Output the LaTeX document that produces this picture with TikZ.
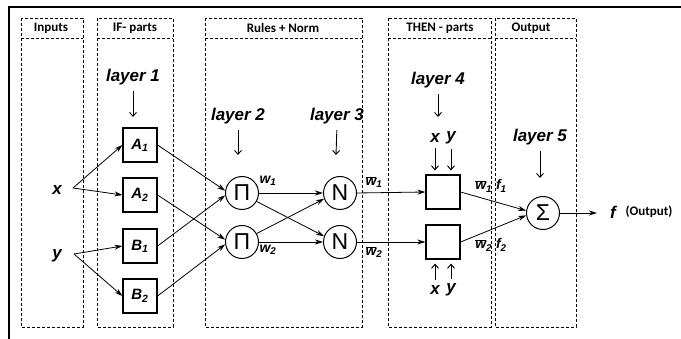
\documentclass[tikz,border=0pt]{standalone}
\usepackage{fontspec}
\setmainfont{Liberation Sans}
\newfontfamily\headfont{Carlito}
\usetikzlibrary{arrows.meta}

\tikzset{
  panel/.style={line width=0.7pt, dash pattern=on 3pt off 2pt},
  mfbox/.style={draw, line width=1.2pt, minimum size=34pt, inner sep=0pt,
    font=\fontsize{15}{15}\selectfont\bfseries\itshape},
  unit/.style={draw, circle, line width=1pt, minimum size=33pt, inner sep=0pt,
    font=\fontsize{23}{23}\selectfont},
  var/.style={font=\fontsize{17}{17}\selectfont\bfseries\itshape, inner sep=1pt},
  sig/.style={font=\fontsize{14}{14}\selectfont\bfseries\itshape, inner sep=1pt},
  layer/.style={font=\fontsize{17}{17}\selectfont\bfseries\itshape, inner sep=1pt},
  head/.style={font=\headfont\fontsize{13}{13}\selectfont\bfseries},
  link/.style={line width=0.8pt, -{Stealth[length=8pt,width=5pt,inset=2.5pt]}},
  down/.style={line width=0.9pt, -{Straight Barb[length=4pt,width=7pt]}},
}
\newcommand{\wbar}[1]{$\overline{\mbox{w}}$\textsubscript{#1}}

\begin{document}
\begin{tikzpicture}[x=1pt,y=-1pt]

	\useasboundingbox (0,0) rectangle (681,339);

	% frame
	\draw[line width=1.8pt] (681,7) -- (9,7) -- (9,339);

	% panels
	\draw[panel] (21,18) rectangle (83,327);
	\draw[panel] (21,38) -- (83,38);
	\draw[panel] (97,18) rectangle (173,327);
	\draw[panel] (97,38) -- (173,38);
	\draw[panel] (205,18) rectangle (362,327);
	\draw[panel] (205,38) -- (362,38);
	\draw[panel] (388,18) rectangle (491,327);
	\draw[panel] (388,38) -- (491,38);
	\draw[panel] (495,18) rectangle (576,327);
	\draw[panel] (495,38) -- (576,38);

	\node[head] (hin) at (51,28) {Inputs};
	\node[head] (hif) at (135,28) {IF- parts};
	\node[head] (hrule) at (283,28) {Rules + Norm};
	\node[head] (hthen) at (440,28) {THEN - parts};
	\node[head] (hout) at (531,28) {Output};

	% inputs
	\node[var] (x) at (57,190) {x};
	\node[var] (y) at (57,256) {y};
	\coordinate (xf) at (73,188);
	\coordinate (yf) at (74,254);

	% layer 1
	\node[mfbox] (A1) at (140,145) {A\textsubscript{1}};
	\node[mfbox] (A2) at (140,195) {A\textsubscript{2}};
	\node[mfbox] (B1) at (140,246) {B\textsubscript{1}};
	\node[mfbox] (B2) at (140,296) {B\textsubscript{2}};

	% layer 2 and 3
	\node[unit] (P1) at (242,193) {Π};
	\node[unit] (P2) at (242,242) {Π};
	\node[unit] (N1) at (340,193) {N};
	\node[unit] (N2) at (340,242) {N};

	% layer 4 and 5
	\node[draw, line width=1.2pt, minimum size=34pt] (T1) at (443,192) {};
	\node[draw, line width=1.2pt, minimum size=34pt] (T2) at (443,242) {};
	\node[unit] (S) at (543,213) {Σ};
	\coordinate (out) at (597,213);
	\node[var] (f) at (613,212) {f};
	\node[head] (fo) at (649,212) {(Output)};

	% connections
	\draw[link] (xf) -- (A1.west);
	\draw[link] (xf) -- (A2.west);
	\draw[link] (yf) -- (B1.west);
	\draw[link] (yf) -- (B2.west);

	\draw[link] (A1.east) -- (P1.172);
	\draw[link] (B1.east) -- (P1.188);
	\draw[link] (A2.east) -- (P2.172);
	\draw[link] (B2.east) -- (P2.188);

	\draw[link] (P1.east) -- (N1.west);
	\draw[link] (P1.-30) -- (N2.160);
	\draw[link] (P2.30) -- (N1.200);
	\draw[link] (P2.east) -- (N2.west);

	\draw[link] (N1.east) -- (T1.west);
	\draw[link] (N2.east) -- (T2.west);
	\draw[link] (T1.east) -- (S.172);
	\draw[link] (T2.east) -- (S.188);
	\draw[link] (S.east) -- (out);

	% signal labels
	\node[sig] (w1) at (268,181) {w\textsubscript{1}};
	\node[sig] (w2) at (268,250) {w\textsubscript{2}};
	\node[sig] (nw1) at (374,182) {\wbar{1}};
	\node[sig] (nw2) at (374,252) {\wbar{2}};
	\node[sig] (wf1) at (491,186) {\wbar{1} f\textsubscript{1}};
	\node[sig] (wf2) at (491,245) {\wbar{2} f\textsubscript{2}};

	% layer labels
	\node[layer] (L1) at (133,77) {layer 1};
	\node[layer] (L2) at (238,116) {layer 2};
	\node[layer] (L3) at (337,116) {layer 3};
	\node[layer] (L4) at (438,80) {layer 4};
	\node[layer] (L5) at (540,137) {layer 5};
	\coordinate (L1e) at (133,117);
	\coordinate (L2e) at (238,155);
	\coordinate (L3e) at (336,155);
	\coordinate (L4e) at (438,117);
	\coordinate (L5e) at (540,178);
	\draw[down, shorten <=5pt] (L1.south) -- (L1e);
	\draw[down, shorten <=5pt] (L2.south) -- (L2e);
	\draw[down, shorten <=5pt] (L3.south) -- (L3e);
	\draw[down, shorten <=5pt] (L4.south) -- (L4e);
	\draw[down, shorten <=5pt] (L5.south) -- (L5e);

	% consequent inputs
	\node[var] (tx) at (435,138) {x};
	\node[var] (ty) at (451,138) {y};
	\node[var] (bx) at (435,290) {x};
	\node[var] (by) at (451,290) {y};
	\draw[down, shorten <=4pt, shorten >=4pt] (tx.south) -- (tx.south |- T1.north);
	\draw[down, shorten <=4pt, shorten >=4pt] (ty.south) -- (ty.south |- T1.north);
	\draw[down, shorten <=4pt, shorten >=4pt] (bx.north) -- (bx.north |- T2.south);
	\draw[down, shorten <=4pt, shorten >=4pt] (by.north) -- (by.north |- T2.south);

\end{tikzpicture}
\end{document}
